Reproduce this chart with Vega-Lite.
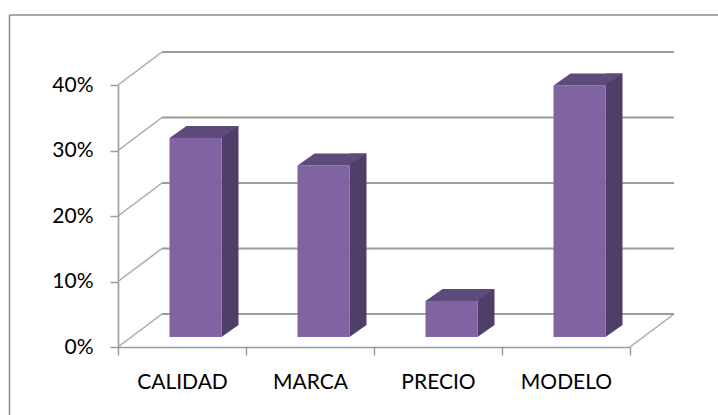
{
  "$schema": "https://vega.github.io/schema/vega-lite/v6.json",
  "width": 512,
  "height": 262,
  "autosize": {"type": "none"},
  "padding": {"left": 118, "top": 85, "right": 88, "bottom": 68},
  "background": "white",
  "datasets": {
    "bars": [
      {"cat": "CALIDAD", "v": 0.304},
      {"cat": "MARCA", "v": 0.262},
      {"cat": "PRECIO", "v": 0.055},
      {"cat": "MODELO", "v": 0.384}
    ],
    "grid": [
      {"v": 0}, {"v": 0.1}, {"v": 0.2}, {"v": 0.3}, {"v": 0.4}
    ],
    "one": [{"k": 1}]
  },
  "layer": [
    {
      "data": {"name": "one"},
      "mark": {"type": "rule", "color": "#8a8a8a", "strokeWidth": 1.5, "xOffset": -108.5, "x2Offset": 100, "yOffset": -70, "y2Offset": -70},
      "encoding": {
        "x": {"datum": "CALIDAD", "type": "nominal", "bandPosition": 0},
        "x2": {"datum": "MODELO", "bandPosition": 1},
        "y": {"datum": 0.4, "type": "quantitative"},
        "y2": {"datum": 0.4}
      }
    },
    {
      "data": {"name": "one"},
      "mark": {"type": "rule", "color": "#8a8a8a", "strokeWidth": 1.5, "xOffset": -108.5, "x2Offset": -108.5, "yOffset": -70, "y2Offset": 80},
      "encoding": {
        "x": {"datum": "CALIDAD", "type": "nominal", "bandPosition": 0},
        "x2": {"datum": "CALIDAD", "bandPosition": 0},
        "y": {"datum": 0.4, "type": "quantitative"},
        "y2": {"datum": 0}
      }
    },
    {
      "data": {"name": "grid"},
      "mark": {"type": "rule", "color": "#9c9c9c", "strokeWidth": 1.8, "xOffset": 44, "x2Offset": 44, "yOffset": -33, "y2Offset": -33},
      "encoding": {
        "x": {"datum": "CALIDAD", "type": "nominal", "bandPosition": 0},
        "x2": {"datum": "MODELO", "bandPosition": 1},
        "y": {"field": "v", "type": "quantitative"},
        "y2": {"field": "v"}
      }
    },
    {
      "data": {"name": "grid"},
      "mark": {"type": "rule", "color": "#a8a8a8", "strokeWidth": 1.5, "x2Offset": 44, "y2Offset": -33},
      "encoding": {
        "x": {"datum": "CALIDAD", "type": "nominal", "bandPosition": 0},
        "x2": {"datum": "CALIDAD", "bandPosition": 0},
        "y": {"field": "v", "type": "quantitative"},
        "y2": {"field": "v"}
      }
    },
    {
      "data": {"name": "grid"},
      "transform": [{"filter": "datum.v == 0"}],
      "mark": {"type": "rule", "color": "#a8a8a8", "strokeWidth": 1.5, "x2Offset": 44, "y2Offset": -33},
      "encoding": {
        "x": {"datum": "MODELO", "type": "nominal", "bandPosition": 1},
        "x2": {"datum": "MODELO", "bandPosition": 1},
        "y": {"field": "v", "type": "quantitative"},
        "y2": {"field": "v"}
      }
    },
    {
      "data": {"name": "bars"},
      "mark": {"type": "bar", "color": "#4f3e68", "width": 17, "xOffset": 48, "yOffset": -22, "y2Offset": -22},
      "encoding": {
        "x": {"field": "cat", "type": "nominal"},
        "y": {"field": "v", "type": "quantitative"},
        "y2": {"datum": 0}
      }
    },
    {
      "data": {"name": "bars"},
      "mark": {"type": "point", "filled": true, "opacity": 1, "color": "#4f3e68", "strokeWidth": 0, "size": 289, "shape": "M-1,-0.7059L1,-0.7059L-1,0.7059Z", "xOffset": 48, "yOffset": -16},
      "encoding": {
        "x": {"field": "cat", "type": "nominal"},
        "y": {"datum": 0, "type": "quantitative"}
      }
    },
    {
      "data": {"name": "bars"},
      "mark": {"type": "bar", "color": "#8064a2", "width": 52, "xOffset": 13.5, "yOffset": -10, "y2Offset": -10},
      "encoding": {
        "x": {"field": "cat", "type": "nominal"},
        "y": {"field": "v", "type": "quantitative"},
        "y2": {"datum": 0}
      }
    },
    {
      "data": {"name": "bars"},
      "mark": {"type": "point", "filled": true, "opacity": 1, "color": "#5f4a7e", "strokeWidth": 0, "size": 4761, "shape": "M-1,0.1739L0.5072,0.1739L1,-0.1739L-0.5072,-0.1739Z", "xOffset": 22, "yOffset": -16},
      "encoding": {
        "x": {"field": "cat", "type": "nominal"},
        "y": {"field": "v", "type": "quantitative"}
      }
    }
  ],
  "encoding": {
    "x": {
      "scale": {"domain": ["CALIDAD", "MARCA", "PRECIO", "MODELO"], "type": "band", "paddingInner": 0, "paddingOuter": 0},
      "axis": {"title": null, "labelAngle": 0, "tickBand": "extent", "labelPadding": 16, "orient": "bottom"}
    },
    "y": {
      "scale": {"domain": [0, 0.4], "nice": false, "zero": true},
      "axis": {"title": null, "values": [0, 0.1, 0.2, 0.3, 0.4], "format": ".0%", "labelPadding": 17}
    }
  },
  "config": {
    "view": {"stroke": null},
    "axis": {
      "grid": false,
      "domainColor": "#9c9c9c",
      "domainWidth": 1.6,
      "tickColor": "#9c9c9c",
      "tickWidth": 1.5,
      "tickSize": 8,
      "labelColor": "#000000",
      "labelFont": "Lato",
      "labelFontSize": 21
    }
  }
}
